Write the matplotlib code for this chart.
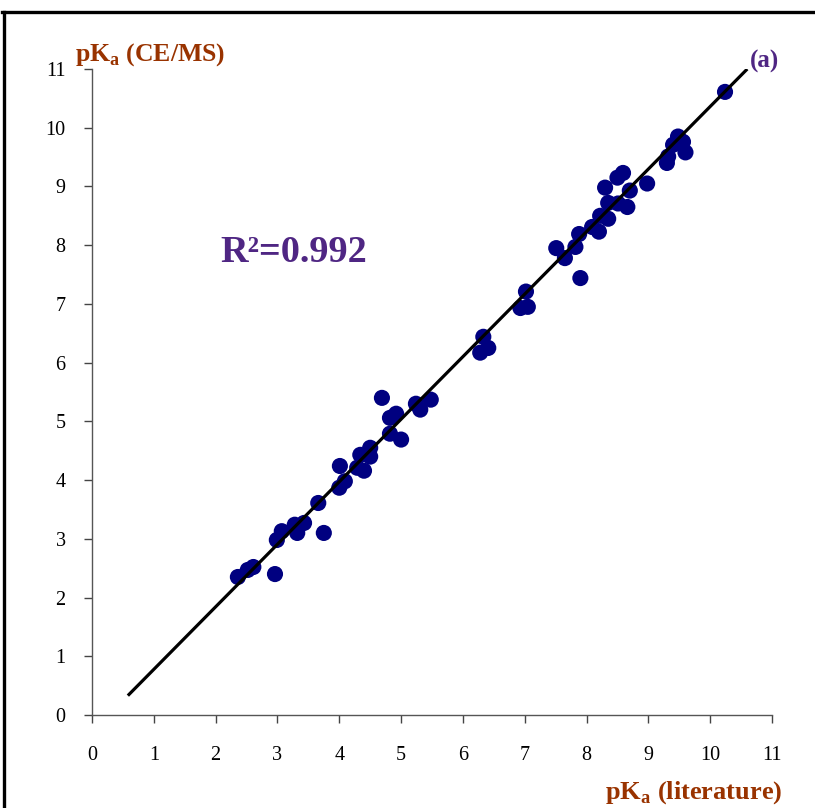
import matplotlib
matplotlib.use("Agg")
import matplotlib.pyplot as plt
from matplotlib.lines import Line2D

plt.rcParams['font.family'] = ['Liberation Serif', 'DejaVu Serif']
plt.rcParams['mathtext.fontset'] = 'custom'
plt.rcParams['mathtext.rm'] = 'Liberation Serif'
plt.rcParams['mathtext.bf'] = 'Liberation Serif:bold'

# pKa literature values (x) vs CE/MS measured values (y)
pka_lit = [2.36, 2.52, 2.61, 2.96, 2.99, 3.07, 3.28, 3.32, 3.43, 3.66,
           3.75, 4.00, 4.01, 4.09, 4.29, 4.34, 4.40, 4.50, 4.50, 4.69,
           4.82, 4.92, 4.82, 5.00, 5.24, 5.31, 5.48, 6.28, 6.33, 6.41,
           6.93, 7.02, 7.05, 7.51, 7.65, 7.82, 7.88, 7.90, 8.09, 8.20,
           8.22, 8.30, 8.35, 8.35, 8.50, 8.51, 8.59, 8.66, 8.70, 8.98,
           9.30, 9.32, 9.40, 9.48, 9.56, 9.60, 10.24]
pka_cems = [2.35, 2.47, 2.52, 2.40, 2.98, 3.13, 3.24, 3.10, 3.27, 3.61,
            3.10, 3.87, 4.24, 3.98, 4.21, 4.43, 4.16, 4.55, 4.40, 5.40,
            5.06, 5.13, 4.79, 4.69, 5.30, 5.20, 5.37, 6.17, 6.44, 6.25,
            6.93, 7.21, 6.95, 7.95, 7.78, 7.97, 8.19, 7.44, 8.31, 8.23,
            8.50, 8.98, 8.45, 8.72, 9.15, 8.71, 9.23, 8.65, 8.93, 9.05,
            9.40, 9.51, 9.71, 9.85, 9.76, 9.58, 10.61]

# regression line endpoints
fit_x = [0.58, 10.6]
fit_y = [0.33, 11.0]

ticks = list(range(0, 12))
r2_text = "R²=0.992"
panel_label = "(a)"

fig = plt.figure(figsize=(8.15, 8.08), dpi=100)
ax = fig.add_axes([92/815, 1-715/808, 680/815, 646/808])

ax.plot(fit_x, fit_y, color='black', lw=2.3, solid_capstyle='butt', zorder=3)
ax.scatter(pka_lit, pka_cems, s=135, color='#000080', edgecolors='none', zorder=2)

ax.set_xlim(0, 11)
ax.set_ylim(0, 11)
ax.set_xticks(ticks)
ax.set_yticks(ticks)
ax.tick_params(axis='both', direction='out', length=6, width=1, color='#444444',
               labelsize=14.5)
ax.tick_params(axis='y', pad=13)
ax.tick_params(axis='x', pad=16)
for side in ['top', 'right']:
    ax.spines[side].set_visible(False)
for side in ['left', 'bottom']:
    ax.spines[side].set_color('#555555')
    ax.spines[side].set_linewidth(1.0)

brown = '#993300'
purple = '#4F2683'
fig.text(75/815, 1-55/808, r"pK$_{\mathbf{a}}$ (CE/MS)", color=brown, fontsize=18.5,
         fontweight='bold', ha='left', va='center')
fig.text(782/815, 1-793/808, r"pK$_{\mathbf{a}}$ (literature)", color=brown, fontsize=19,
         fontweight='bold', ha='right', va='center')
fig.text(220/815, 1-253/808, r2_text, color=purple, fontsize=27.5,
         fontweight='bold', ha='left', va='center')
fig.text(750/815, 1-61/808, panel_label, color=purple, fontsize=18,
         fontweight='bold', ha='left', va='center')

# outer frame (left and top edges)
fig.add_artist(Line2D([3.5/815, 3.5/815], [0, 1-12/808], color='black', lw=2.4,
                      transform=fig.transFigure))
fig.add_artist(Line2D([2.3/815, 1], [1-12/808, 1-12/808], color='black', lw=2.4,
                      transform=fig.transFigure))

fig.savefig("out.png", dpi=100)
